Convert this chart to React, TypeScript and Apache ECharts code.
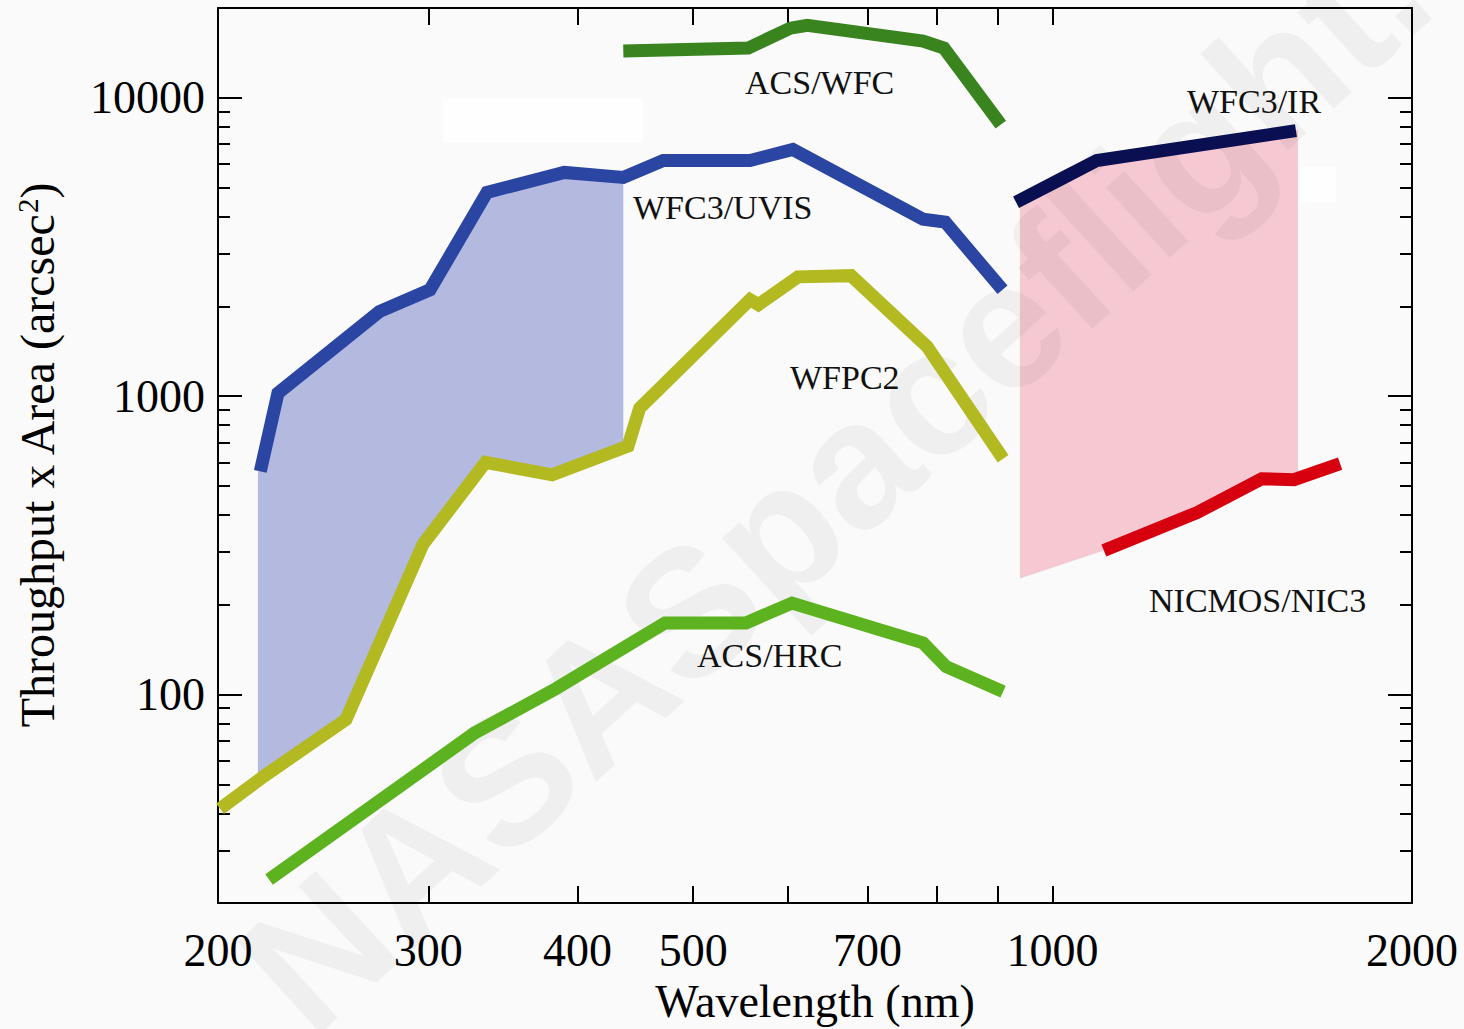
import React, { useEffect, useRef } from "react";
import * as echarts from "echarts";

// ---------- data (wavelength in nm, throughput x area in arcsec^2) ----------
const uvisX = [217, 224.5, 273, 301, 336, 390, 437, 472, 558, 606, 779, 813, 908];
const uvisY = [560, 1023, 1920, 2273, 4822, 5623, 5412, 6166, 6166, 6710, 3920, 3831, 2273];

const wfpc2X = [200.8, 218, 256, 297, 335, 381, 441, 451, 558, 567, 612, 678, 785, 909];
const wfpc2Y = [41.4, 52.9, 82.5, 319, 600, 545, 681, 912, 2105, 2026, 2512, 2535, 1468, 617];

const hrcX = [220.7, 327.7, 383.8, 473.6, 553.6, 605, 779, 814.5, 909];
const hrcY = [24.0, 74.1, 104.7, 173.8, 173.8, 202.6, 149, 124, 102.3];

const wfcX = [437, 556, 603, 623, 779, 811, 905];
const wfcY = [14340, 14680, 17110, 17510, 15490, 14680, 8130];

const irX = [932, 1015, 1089, 1599];
const irY = [4467, 5330, 6166, 7762];

const nicX = [1104, 1321, 1497, 1593, 1741];
const nicY = [304, 407, 529, 525, 594];

// shaded "improvement" regions
const blueFillTopX = [216, 224.5, 273, 301, 336, 390, 437];
const blueFillTopY = [550, 1023, 1920, 2273, 4822, 5623, 5495];
const blueFillBottomX = [437, 381, 335, 297, 256, 218, 216];
const blueFillBottomY = [681, 545, 600, 319, 82.5, 52.9, 52];

const pinkFillTopX = [939, 1015, 1089, 1605];
const pinkFillTopY = [4500, 5330, 6166, 7800];
const pinkFillBottomX = [1605, 1497, 1321, 1104, 939];
const pinkFillBottomY = [530, 541, 407, 304, 245];

// ---------- axis ticks / labels ----------
const xTickValues = [300, 400, 500, 600, 700, 800, 900, 1000];
const xLabelValues = [200, 300, 400, 500, 700, 1000, 2000];
const yMajorValues = [100, 1000, 10000];
const yMinorValues = [30, 40, 50, 60, 70, 80, 90, 200, 300, 400, 500, 600, 700, 800, 900, 2000, 3000, 4000, 5000, 6000, 7000, 8000, 9000];

const seriesLabels = [
  { text: "ACS/WFC", x: 745, y: 82 },
  { text: "WFC3/UVIS", x: 633, y: 207 },
  { text: "WFC3/IR", x: 1187, y: 101 },
  { text: "WFPC2", x: 790, y: 377 },
  { text: "ACS/HRC", x: 697, y: 655 },
  { text: "NICMOS/NIC3", x: 1149, y: 600 },
];

const SERIF = "'Liberation Serif', 'Times New Roman', serif";

function zip(xs: number[], ys: number[]) {
  return xs.map((x, i) => [x, ys[i]]);
}

function lineSeries(name: string, xs: number[], ys: number[], color: string) {
  return {
    type: "line",
    name,
    data: zip(xs, ys),
    xAxisIndex: 0,
    yAxisIndex: 0,
    symbol: "none",
    showSymbol: false,
    silent: true,
    z: 4,
    lineStyle: { color, width: 13, cap: "butt", join: "miter" },
  };
}

function fillSeries(name: string, tx: number[], ty: number[], bx: number[], by: number[], color: string) {
  const pts = zip(tx, ty).concat(zip(bx, by));
  return {
    type: "custom",
    name,
    xAxisIndex: 0,
    yAxisIndex: 0,
    silent: true,
    z: 1,
    data: [pts[0]],
    renderItem: (_params: any, api: any) => ({
      type: "polygon",
      shape: { points: pts.map((p) => api.coord(p)) },
      style: { fill: color },
    }),
  };
}

const baseLog = { type: "log", logBase: 10, gridIndex: 0, splitLine: { show: false }, minorTick: { show: false }, minorSplitLine: { show: false } };
const frameLine = { show: true, lineStyle: { color: "#000", width: 2 } };

export default function App() {
  const ref = useRef<HTMLDivElement>(null);

  useEffect(() => {
    if (!ref.current) return;
    const chart = echarts.init(ref.current, null, { renderer: "svg" });

    const option: any = {
      animation: false,
      backgroundColor: "#fafafa",
      grid: { left: 218, top: 8, right: 52, bottom: 119, containLabel: false },
      xAxis: [
        {
          ...baseLog,
          min: 200,
          max: 2000,
          position: "bottom",
          axisLine: frameLine,
          axisTick: { show: true, inside: true, length: 17, customValues: xTickValues, lineStyle: { color: "#000", width: 2 } },
          axisLabel: {
            show: true,
            customValues: xLabelValues,
            formatter: (v: number) => String(Math.round(v)),
            fontFamily: SERIF,
            fontSize: 46,
            color: "#000",
            margin: 24,
          },
          name: "Wavelength (nm)",
          nameLocation: "middle",
          nameGap: 74,
          nameTextStyle: { fontFamily: SERIF, fontSize: 46, color: "#000" },
        },
        {
          ...baseLog,
          min: 200,
          max: 2000,
          position: "top",
          axisLine: frameLine,
          axisTick: { show: true, inside: true, length: 17, customValues: xTickValues, lineStyle: { color: "#000", width: 2 } },
          axisLabel: { show: false },
        },
      ],
      yAxis: [
        {
          ...baseLog,
          min: 20,
          max: 20000,
          position: "left",
          axisLine: frameLine,
          axisTick: { show: true, inside: true, length: 24, customValues: yMajorValues, lineStyle: { color: "#000", width: 2 } },
          axisLabel: {
            show: true,
            customValues: yMajorValues,
            formatter: (v: number) => String(Math.round(v)),
            fontFamily: SERIF,
            fontSize: 46,
            color: "#000",
            margin: 13,
          },
          name: "{t|Throughput x Area (arcsec}{s|2}{t|)}",
          nameLocation: "middle",
          nameGap: 157,
          nameTextStyle: {
            color: "#000",
            rich: {
              t: { fontFamily: SERIF, fontSize: 48, color: "#000" },
              s: { fontFamily: SERIF, fontSize: 29, color: "#000", verticalAlign: "top" },
            },
          },
        },
        {
          ...baseLog,
          min: 20,
          max: 20000,
          position: "left",
          axisLine: { show: false },
          axisTick: { show: true, inside: true, length: 12, customValues: yMinorValues, lineStyle: { color: "#000", width: 2 } },
          axisLabel: { show: false },
        },
        {
          ...baseLog,
          min: 20,
          max: 20000,
          position: "right",
          axisLine: frameLine,
          axisTick: { show: true, inside: true, length: 24, customValues: yMajorValues, lineStyle: { color: "#000", width: 2 } },
          axisLabel: { show: false },
        },
        {
          ...baseLog,
          min: 20,
          max: 20000,
          position: "right",
          axisLine: { show: false },
          axisTick: { show: true, inside: true, length: 12, customValues: yMinorValues, lineStyle: { color: "#000", width: 2 } },
          axisLabel: { show: false },
        },
      ],
      series: [
        fillSeries("UVIS gain", blueFillTopX, blueFillTopY, blueFillBottomX, blueFillBottomY, "#b4b9e0"),
        fillSeries("IR gain", pinkFillTopX, pinkFillTopY, pinkFillBottomX, pinkFillBottomY, "#f5c8d2"),
        lineSeries("ACS/WFC", wfcX, wfcY, "#3a8420"),
        lineSeries("WFC3/UVIS", uvisX, uvisY, "#2a45a2"),
        lineSeries("WFPC2", wfpc2X, wfpc2Y, "#b3b921"),
        lineSeries("ACS/HRC", hrcX, hrcY, "#5db31f"),
        lineSeries("WFC3/IR", irX, irY, "#0a0f52"),
        lineSeries("NICMOS/NIC3", nicX, nicY, "#d6000f"),
      ],
      graphic: [
        { type: "rect", z: 0, silent: true, shape: { x: 443, y: 99, width: 200, height: 43 }, style: { fill: "#fefefe" } },
        { type: "rect", z: 0, silent: true, shape: { x: 1300, y: 167, width: 36, height: 36 }, style: { fill: "#fefefe" } },
        {
          type: "text",
          z: 2,
          silent: true,
          x: 971,
          y: 355,
          rotation: (42.4 * Math.PI) / 180,
          style: {
            text: "NASASpaceflight.com",
            font: "bold 180px 'Liberation Sans', Arial, sans-serif",
            fill: "rgba(0,0,0,0.042)",
            align: "center",
            verticalAlign: "middle",
          },
        },
        ...seriesLabels.map((l) => ({
          type: "text",
          z: 10,
          silent: true,
          x: l.x,
          y: l.y,
          style: {
            text: l.text,
            font: `34px ${SERIF}`,
            fill: "#111",
            align: "left",
            verticalAlign: "middle",
          },
        })),
      ],
    };

    chart.setOption(option);
    return () => chart.dispose();
  }, []);

  return (
    <div
      ref={ref}
      style={{ position: "absolute", left: 0, top: 0, width: 1464, height: 1029 }}
    />
  );
}
